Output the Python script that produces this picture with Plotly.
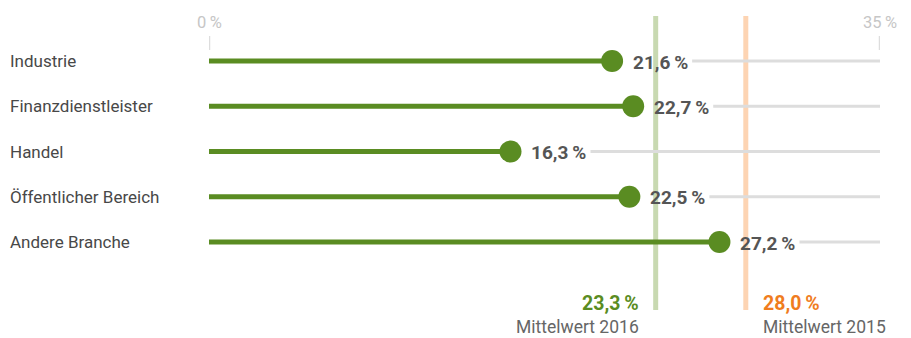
import plotly.graph_objects as go

# Anteil je Branche (in %)
categories = ["Industrie", "Finanzdienstleister", "Handel", "Öffentlicher Bereich", "Andere Branche"]
values = [21.6, 22.7, 16.3, 22.5, 27.2]
value_labels = ["21,6\u2009%", "22,7\u2009%", "16,3\u2009%", "22,5\u2009%", "27,2\u2009%"]

# Mittelwerte
mean_2016 = 23.3
mean_2015 = 28.0
mean_2016_label = "23,3\u2009%"
mean_2015_label = "28,0\u2009%"

axis_min, axis_max = 0, 35
axis_tick_labels = ["0\u2009%", "35\u2009%"]

FONT = "Roboto, Arial, sans-serif"
GREEN = "#5a8c22"
GREEN_LIGHT = "#c8d9b1"
ORANGE = "#f07d1e"
ORANGE_LIGHT = "#fdd4b3"
GREY_LINE = "#dddddd"
TEXT_DARK = "#555555"
TEXT_CAT = "#484848"

W, H = 911, 338
ML, MR = 209, 31
px_per_unit = (W - ML - MR) / (axis_max - axis_min)
dot_r = 11  # dot radius in px; the dot's right edge sits on the value
label_gap_units = 3.6  # grey track resumes after the value label

row_px0, row_step = 61, 45.25
y_top = -row_px0 / row_step
y_bottom = (H - row_px0) / row_step


def py(px):
    return (px - row_px0) / row_step


fig = go.Figure()
shapes = []
annotations = []

# Mittelwert-Linien
for m, col in [(mean_2016, GREEN_LIGHT), (mean_2015, ORANGE_LIGHT)]:
    shapes.append(dict(type="line", x0=m, x1=m, y0=py(16), y1=py(310),
                       line=dict(color=col, width=5), layer="below"))

# graue Spur rechts der Werte
for i, v in enumerate(values):
    shapes.append(dict(type="line", x0=v + label_gap_units, x1=axis_max, y0=i, y1=i,
                       line=dict(color=GREY_LINE, width=3), layer="below"))

# Achsenmarken
for xv, lab in zip([axis_min, axis_max], axis_tick_labels):
    shapes.append(dict(type="line", x0=xv, x1=xv, y0=py(36), y1=py(50),
                       line=dict(color=GREY_LINE, width=2.5), layer="below"))
    annotations.append(dict(x=xv, y=py(22), text=lab, showarrow=False, xanchor="center",
                            yanchor="middle", font=dict(family=FONT, size=16.5, color="#c6c6c6")))

# Balkenlinien
for i, v in enumerate(values):
    fig.add_trace(go.Scatter(x=[axis_min, v - dot_r / px_per_unit], y=[i, i], mode="lines",
                             line=dict(color=GREEN, width=5), hoverinfo="skip", showlegend=False))

# Punkte
fig.add_trace(go.Scatter(x=[v - dot_r / px_per_unit for v in values], y=list(range(len(values))),
                         mode="markers", marker=dict(size=2 * dot_r, color=GREEN, line=dict(width=0)),
                         showlegend=False, hoverinfo="skip"))

# Wertbeschriftungen
for i, (v, lab) in enumerate(zip(values, value_labels)):
    annotations.append(dict(x=v, y=i, text=f"<b>{lab}</b>", showarrow=False, xanchor="left",
                            yanchor="middle", xshift=8, yshift=-1,
                            font=dict(family=FONT, size=19, color=TEXT_DARK)))

# Kategorien
for i, c in enumerate(categories):
    annotations.append(dict(x=(8 - ML) / (W - ML - MR), xref="paper", y=i, text=c, showarrow=False,
                            xanchor="left", yanchor="middle", yshift=0,
                            font=dict(family=FONT, size=17, color=TEXT_CAT)))

# Mittelwert-Beschriftungen
annotations += [
    dict(x=mean_2016, y=py(303), text=f"<b>{mean_2016_label}</b>", showarrow=False, xanchor="right",
         yanchor="middle", xshift=-15, font=dict(family=FONT, size=19.5, color=GREEN)),
    dict(x=mean_2016, y=py(327), text="Mittelwert 2016", showarrow=False, xanchor="right",
         yanchor="middle", xshift=-15, font=dict(family=FONT, size=17.5, color="#666666")),
    dict(x=mean_2015, y=py(303), text=f"<b>{mean_2015_label}</b>", showarrow=False, xanchor="left",
         yanchor="middle", xshift=15, font=dict(family=FONT, size=19.5, color=ORANGE)),
    dict(x=mean_2015, y=py(327), text="Mittelwert 2015", showarrow=False, xanchor="left",
         yanchor="middle", xshift=15, font=dict(family=FONT, size=17.5, color="#666666")),
]

fig.update_layout(
    width=W, height=H,
    margin=dict(l=ML, r=MR, t=0, b=0),
    paper_bgcolor="white", plot_bgcolor="white",
    xaxis=dict(range=[axis_min, axis_max], visible=False, fixedrange=True),
    yaxis=dict(range=[y_bottom, y_top], visible=False, fixedrange=True),
    shapes=shapes, annotations=annotations,
    showlegend=False,
)

fig.write_html("out.html", config={"displayModeBar": False})
